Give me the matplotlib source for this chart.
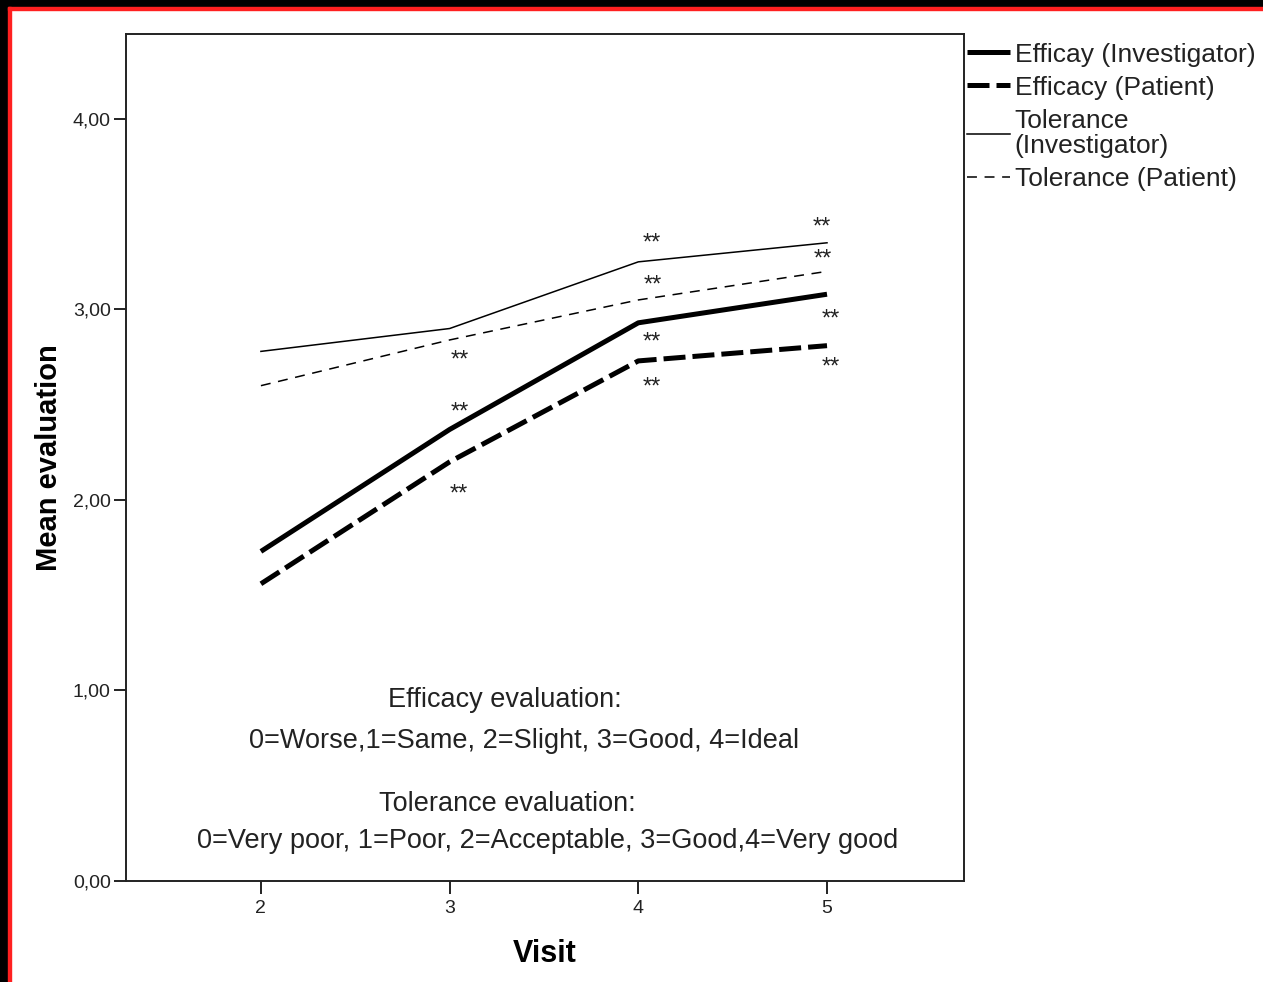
import matplotlib
matplotlib.use("Agg")
import matplotlib.pyplot as plt
from matplotlib.patches import Rectangle

plt.rcParams['font.family'] = ['Liberation Sans', 'DejaVu Sans']

visits = [2, 3, 4, 5]
efficacy_investigator = [1.73, 2.37, 2.93, 3.08]
efficacy_patient = [1.56, 2.20, 2.73, 2.81]
tolerance_investigator = [2.78, 2.90, 3.25, 3.35]
tolerance_patient = [2.60, 2.84, 3.05, 3.20]

y_ticks = [0, 1, 2, 3, 4]
y_tick_labels = ["0,00", "1,00", "2,00", "3,00", "4,00"]

# significance marks: (series, visit index, offset in pixels)
stars = [
    (tolerance_patient, 1, (10, -15)),
    (efficacy_investigator, 1, (10, 23)),
    (efficacy_patient, 1, (9, -27)),
    (tolerance_investigator, 2, (13, 24)),
    (tolerance_patient, 2, (14, 20)),
    (efficacy_investigator, 2, (13, -14)),
    (efficacy_patient, 2, (13, -21)),
    (tolerance_investigator, 3, (-5, 21)),
    (tolerance_patient, 3, (-4, 18)),
    (efficacy_investigator, 3, (4, -19)),
    (efficacy_patient, 3, (4, -16)),
]

W, H = 1263, 982
fig = plt.figure(figsize=(W / 100, H / 100), dpi=100)
ax = fig.add_axes([126 / W, 1 - 881 / H, (964 - 126) / W, (881 - 34) / H])

ax.plot(visits, efficacy_investigator, color='black', lw=3.6,
        solid_capstyle='butt', label='Efficay (Investigator)')
ax.plot(visits, efficacy_patient, color='black', lw=3.6,
        ls=(0, (4.4, 1.4)), dash_capstyle='butt', label='Efficacy (Patient)')
ax.plot(visits, tolerance_investigator, color='black', lw=1.1,
        label='Tolerance\n(Investigator)')
ax.plot(visits, tolerance_patient, color='black', lw=1.1,
        ls=(0, (6.5, 5.0)), label='Tolerance (Patient)')

# va='center' puts the asterisks a little high, so nudge them down
for series, i, (dx, dy) in stars:
    ax.annotate('**', (visits[i], series[i]), xytext=(dx, dy - 6),
                textcoords='offset pixels', ha='center', va='center',
                fontsize=17, color='#222222')

ax.set_xlim(1.285, 5.726)
ax.set_ylim(0, 4.446)
ax.set_xticks(visits)
ax.set_yticks(y_ticks)
ax.set_yticklabels(y_tick_labels)
ax.tick_params(direction='out', length=9, width=1.4, labelsize=14,
               colors='#222222', pad=2)
ax.tick_params(axis='x', pad=5)
for s in ax.spines.values():
    s.set_linewidth(1.4)
    s.set_color('#222222')

ax.set_xlabel('Visit', fontsize=22, fontweight='bold', labelpad=15.5)
ax.set_ylabel('Mean evaluation', fontsize=21, fontweight='bold', labelpad=7)

txt = dict(ha='center', va='center', fontsize=19.5, color='#222222')
ax.text(3.293, 0.95, 'Efficacy evaluation:', **txt)
ax.text(3.397, 0.735, '0=Worse,1=Same, 2=Slight, 3=Good, 4=Ideal', **txt)
ax.text(3.304, 0.405, 'Tolerance evaluation:', **txt)
ax.text(3.518, 0.212, '0=Very poor, 1=Poor, 2=Acceptable, 3=Good,4=Very good', **txt)

leg = ax.legend(loc='upper left', bbox_to_anchor=(1.0, 1 - 6 / 847),
                frameon=False, fontsize=19, handlelength=1.63,
                handletextpad=0.19, labelspacing=0.34, borderaxespad=0,
                borderpad=0.1)
for t in leg.get_texts():
    t.set_color('#222222')
    t.set_linespacing(1.08)

# black frame with a red inner line along the top and left edges
fig.add_artist(Rectangle((0, 0), 8 / W, 1, transform=fig.transFigure,
                         color='black', zorder=10))
fig.add_artist(Rectangle((0, 1 - 7 / H), 1, 7 / H, transform=fig.transFigure,
                         color='black', zorder=10))
fig.add_artist(Rectangle((8 / W, 0), 3 / W, 1 - 7 / H, transform=fig.transFigure,
                         color='#ff2020', zorder=10))
fig.add_artist(Rectangle((8 / W, 1 - 10 / H), 1, 3 / H, transform=fig.transFigure,
                         color='#ff2020', zorder=10))

fig.savefig('out.png', dpi=100)
